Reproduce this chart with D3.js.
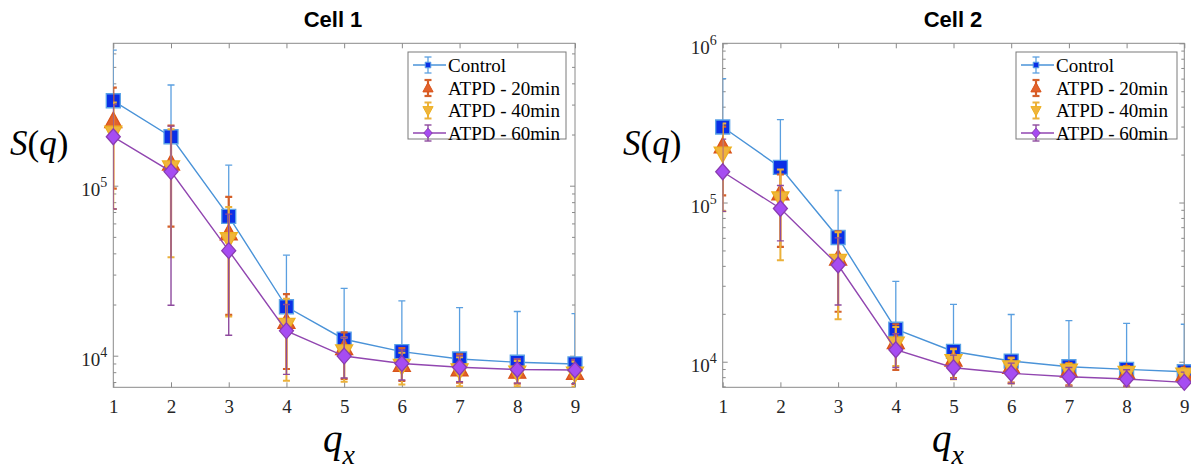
<!DOCTYPE html>
<html><head><meta charset="utf-8">
<script src="https://cdn.jsdelivr.net/npm/d3@7"></script>
<style>
body{margin:0;background:#fff} svg{display:block}
.serif{font-family:"Liberation Serif","Times New Roman",Times,"DejaVu Serif",serif;}
.sans{font-family:"Liberation Sans",Arial,Helvetica,sans-serif;}
</style>
</head><body>
<svg id="chart" width="1191" height="470"></svg>
<script>
// ---------- data ----------
const qx = [1, 2, 3, 4, 5, 6, 7, 8, 9];
const xTickValues = [1, 2, 3, 4, 5, 6, 7, 8, 9];
const seriesNames = ["Control", "ATPD - 20min", "ATPD - 40min", "ATPD - 60min"];
const panelTitles = ["Cell 1", "Cell 2"];
const cell1YTicks = [1e4, 1e5];
const cell2YTicks = [1e4, 1e5, 1e6];
const cell1YDomain = [6518, 688000];
const cell2YDomain = [6909, 1000000];

// Cell 1
const c1Control   = [316000, 194000, 66000, 19400, 12500, 10560, 9560, 9150, 8940];
const c1ControlHi = [628000, 391000, 132000, 39000, 24900, 21000, 19200, 18200, 17700];
const c1ControlLo = [null, null, null, null, null, null, null, null, null];
const c1A20   = [240000, 135000, 52500, 15800, 11100, 8820, 8300, 8050, 7940];
const c1A20Hi = [377000, 226000, 86000, 23000, 13700, 11100, 10200, 9560, 9440];
const c1A20Lo = [96000, 57400, 17400, 8350, 7300, 7100, 6950, 6850, 6800];
const c1A40   = [205000, 128000, 48400, 15200, 10600, 8700, 8200, 7950, 7850];
const c1A40Hi = [309000, 215000, 75000, 21600, 12800, 10400, 9800, 9300, 9200];
const c1A40Lo = [73000, 37900, 17000, 7120, 7030, 6770, 6620, 6620, 6550];
const c1A60   = [194000, 121000, 41500, 14000, 9950, 9000, 8550, 8300, 8240];
const c1A60Hi = [300000, 224000, 68000, 20000, 12800, 10800, 10000, 9600, 9450];
const c1A60Lo = [73000, 19800, 13200, 7760, 7400, 7200, 7030, 6900, 6850];

// Cell 2
const c2Control   = [298000, 166000, 60300, 16000, 11600, 10100, 9300, 8960, 8650];
const c2ControlHi = [600000, 332000, 119000, 32000, 22900, 19800, 18100, 17400, 17200];
const c2ControlLo = [null, null, null, null, null, null, null, null, null];
const c2A20   = [225000, 114000, 44500, 13300, 10300, 9300, 8800, 8500, 8300];
const c2A20Hi = [300000, 150000, 66000, 17200, 12100, 10600, 9800, 9400, 9200];
const c2A20Lo = [111000, 52600, 20600, 8870, 7900, 7400, 7100, 7000, 6950];
const c2A40   = [203000, 106000, 43000, 13000, 10100, 9220, 8780, 8500, 8300];
const c2A40Hi = [313000, 161000, 65000, 16500, 12000, 10500, 9700, 9300, 9100];
const c2A40Lo = [88000, 43400, 18500, 9400, 7760, 7300, 7030, 6950, 6920];
const c2A60   = [156000, 91700, 40500, 11900, 9170, 8460, 8050, 7790, 7420];
const c2A60Hi = [250000, 128000, 60000, 15000, 11000, 9800, 9200, 8900, 8600];
const c2A60Lo = [88000, 57400, 22700, 9200, 7760, 7300, 7030, 6950, 6920];

// ---------- styles ----------
const seriesStyle = [
  {marker: "square", fill: "#0a2fe6", stroke: "#5aa2e6", line: "#4a93d8", bar: "#5a9fe0", barW: 1.3, drawLine: true},
  {marker: "up",     fill: "#e2622c", stroke: "#d95319", line: "#d95319", bar: "#d4602a", barW: 2.2, drawLine: false},
  {marker: "down",   fill: "#f0b43c", stroke: "#edb120", line: "#edb120", bar: "#ebb13a", barW: 2.0, drawLine: false},
  {marker: "diamond",fill: "#a64cf2", stroke: "#8a3cb0", line: "#9146b0", bar: "#8e4a9e", barW: 1.4, drawLine: true}
];

function markerPath(type, s) {
  if (type === "square") { const h = 7 * s; return `M${-h},${-h}H${h}V${h}H${-h}Z`; }
  if (type === "up") { return `M0,${-9 * s}L${8.5 * s},${6.5 * s}L${-8.5 * s},${6.5 * s}Z`; }
  if (type === "down") { return `M0,${9 * s}L${8.5 * s},${-6.5 * s}L${-8.5 * s},${-6.5 * s}Z`; }
  return `M0,${-8 * s}L${7 * s},0L0,${8 * s}L${-7 * s},0Z`;
}

const panels = [
  {title: panelTitles[0], titleX: 333, x0: 113.3, x1: 575, y0: 43.3, y1: 387.3,
   yDomain: cell1YDomain, yTicks: cell1YTicks, ylabX: 10, xlabX: 323,
   legend: {x: 408, y: 52, w: 158, h: 87},
   series: [[c1Control, c1ControlHi, c1ControlLo], [c1A20, c1A20Hi, c1A20Lo], [c1A40, c1A40Hi, c1A40Lo], [c1A60, c1A60Hi, c1A60Lo]]},
  {title: panelTitles[1], titleX: 953, x0: 722.7, x1: 1184.3, y0: 43.3, y1: 387.3,
   yDomain: cell2YDomain, yTicks: cell2YTicks, ylabX: 623, xlabX: 932,
   legend: {x: 1016, y: 52, w: 161, h: 87},
   series: [[c2Control, c2ControlHi, c2ControlLo], [c2A20, c2A20Hi, c2A20Lo], [c2A40, c2A40Hi, c2A40Lo], [c2A60, c2A60Hi, c2A60Lo]]}
];

const svg = d3.select("#chart");
const axisColor = "#8a8a8a";

panels.forEach((p, pi) => {
  const x = d3.scaleLinear().domain([1, 9]).range([p.x0, p.x1]);
  const y = d3.scaleLog().domain(p.yDomain).range([p.y1, p.y0]);
  const g = svg.append("g");

  const clipId = "clip" + pi;
  svg.append("defs").append("clipPath").attr("id", clipId)
    .append("rect").attr("x", p.x0).attr("y", p.y0).attr("width", p.x1 - p.x0).attr("height", p.y1 - p.y0);

  const minors = [];
  for (let d = Math.floor(Math.log10(p.yDomain[0])); d <= Math.ceil(Math.log10(p.yDomain[1])); d++) {
    for (let k = 2; k <= 9; k++) {
      const v = k * Math.pow(10, d);
      if (v > p.yDomain[0] && v < p.yDomain[1]) minors.push(v);
    }
  }

  const styleAxis = sel => {
    sel.attr("font-family", null).attr("font-size", null);
    sel.selectAll(".domain").remove();
    sel.selectAll(".tick line").attr("stroke", axisColor);
  };
  g.append("g").attr("class", "serif").attr("transform", `translate(0,${p.y1})`)
    .call(d3.axisBottom(x).tickValues(xTickValues).tickSizeInner(-5).tickSizeOuter(0).tickPadding(12).tickFormat(d3.format("d")))
    .call(styleAxis)
    .call(s => s.selectAll("text").style("font-size", "19px").attr("fill", "#262626"));
  g.append("g").attr("transform", `translate(0,${p.y0})`)
    .call(d3.axisTop(x).tickValues(xTickValues).tickSizeInner(-5).tickSizeOuter(0).tickFormat(""))
    .call(styleAxis);
  [[d3.axisLeft, p.x0], [d3.axisRight, p.x1]].forEach(([fn, xp], k) => {
    g.append("g").attr("transform", `translate(${xp},0)`)
      .call(fn(y).tickValues(minors).tickSizeInner(-3).tickSizeOuter(0).tickFormat(""))
      .call(styleAxis);
    const maj = g.append("g").attr("class", "serif").attr("transform", `translate(${xp},0)`)
      .call(fn(y).tickValues(p.yTicks).tickSizeInner(-5).tickSizeOuter(0).tickPadding(6).tickFormat(""))
      .call(styleAxis);
    if (k === 0) {
      maj.selectAll(".tick text").each(function (d) {
        const t = d3.select(this).attr("fill", "#262626").attr("dy", null)
          .attr("y", 10).attr("text-anchor", "end");
        t.append("tspan").style("font-size", "19px").text("10");
        t.append("tspan").style("font-size", "14px").attr("dy", -9).text(Math.round(Math.log10(d)));
      });
    }
  });
  g.append("rect").attr("x", p.x0).attr("y", p.y0).attr("width", p.x1 - p.x0).attr("height", p.y1 - p.y0)
    .attr("fill", "none").attr("stroke", axisColor).attr("stroke-width", 1);

  p.series.forEach(([vals, his, los], si) => {
    const st = seriesStyle[si];
    const sg = g.append("g");
    const bars = sg.append("g").attr("clip-path", `url(#${clipId})`).attr("stroke", st.bar).attr("stroke-width", st.barW).attr("fill", "none");
    qx.forEach((q, i) => {
      const cx = x(q), cy = y(vals[i]);
      if (his[i] != null) {
        const yh = y(his[i]);
        bars.append("line").attr("x1", cx).attr("x2", cx).attr("y1", cy).attr("y2", yh);
        bars.append("line").attr("x1", cx - 3.5).attr("x2", cx + 3.5).attr("y1", yh).attr("y2", yh);
      }
      if (los[i] != null) {
        const yl = y(los[i]);
        bars.append("line").attr("x1", cx).attr("x2", cx).attr("y1", cy).attr("y2", yl);
        bars.append("line").attr("x1", cx - 3.5).attr("x2", cx + 3.5).attr("y1", yl).attr("y2", yl);
      }
    });
    if (st.drawLine) {
      sg.append("path").datum(qx.map((q, i) => [q, vals[i]]))
        .attr("clip-path", `url(#${clipId})`)
        .attr("d", d3.line().x(d => x(d[0])).y(d => y(d[1])))
        .attr("fill", "none").attr("stroke", st.line).attr("stroke-width", 1.4);
    }
    sg.selectAll("path.mk").data(qx.map((q, i) => [q, vals[i]])).join("path").attr("class", "mk")
      .attr("transform", d => `translate(${x(d[0])},${y(d[1])})`)
      .attr("d", markerPath(st.marker, 1))
      .attr("fill", st.fill).attr("stroke", st.stroke).attr("stroke-width", 1.3);
  });

  g.append("text").attr("class", "sans").attr("x", p.titleX).attr("y", 27).attr("text-anchor", "middle")
    .style("font-weight", "bold").style("font-size", "22px")
    .attr("fill", "#000").text(p.title);

  const yl = g.append("text").attr("class", "serif").attr("x", p.ylabX).attr("y", 155).style("font-size", "35px").attr("fill", "#000");
  yl.append("tspan").style("font-style", "italic").text("S");
  yl.append("tspan").text("(");
  yl.append("tspan").style("font-style", "italic").text("q");
  yl.append("tspan").text(")");

  const xl = g.append("text").attr("class", "serif").attr("x", p.xlabX).attr("y", 452).attr("fill", "#000").style("font-style", "italic");
  xl.append("tspan").style("font-size", "39px").text("q");
  xl.append("tspan").style("font-size", "28px").attr("dy", 12).text("x");

  const L = p.legend;
  const lg = g.append("g");
  lg.append("rect").attr("x", L.x).attr("y", L.y).attr("width", L.w).attr("height", L.h)
    .attr("fill", "#fff").attr("stroke", "#7a7a7a").attr("stroke-width", 1);
  const rowOff = [13, 36, 58.5, 81];
  seriesNames.forEach((name, si) => {
    const st = seriesStyle[si];
    const ry = L.y + rowOff[si];
    const cx = L.x + 20;
    if (st.drawLine) {
      lg.append("line").attr("x1", L.x + 5).attr("x2", L.x + 38).attr("y1", ry).attr("y2", ry)
        .attr("stroke", st.line).attr("stroke-width", 1.4);
    }
    lg.append("line").attr("x1", cx).attr("x2", cx).attr("y1", ry - 8).attr("y2", ry + 8).attr("stroke", st.bar).attr("stroke-width", st.barW);
    [ry - 8, ry + 8].forEach(yy => lg.append("line").attr("x1", cx - 3.5).attr("x2", cx + 3.5).attr("y1", yy).attr("y2", yy)
      .attr("stroke", st.bar).attr("stroke-width", st.barW));
    lg.append("path").attr("transform", `translate(${cx},${ry})`).attr("d", markerPath(st.marker, si === 0 ? 0.4 : 0.6))
      .attr("fill", st.fill).attr("stroke", st.stroke).attr("stroke-width", 1);
    lg.append("text").attr("class", "serif").attr("x", L.x + 40).attr("y", ry + 6.5).style("font-size", "19px")
      .attr("fill", "#000").text(name);
  });
});
</script>
</body></html>
